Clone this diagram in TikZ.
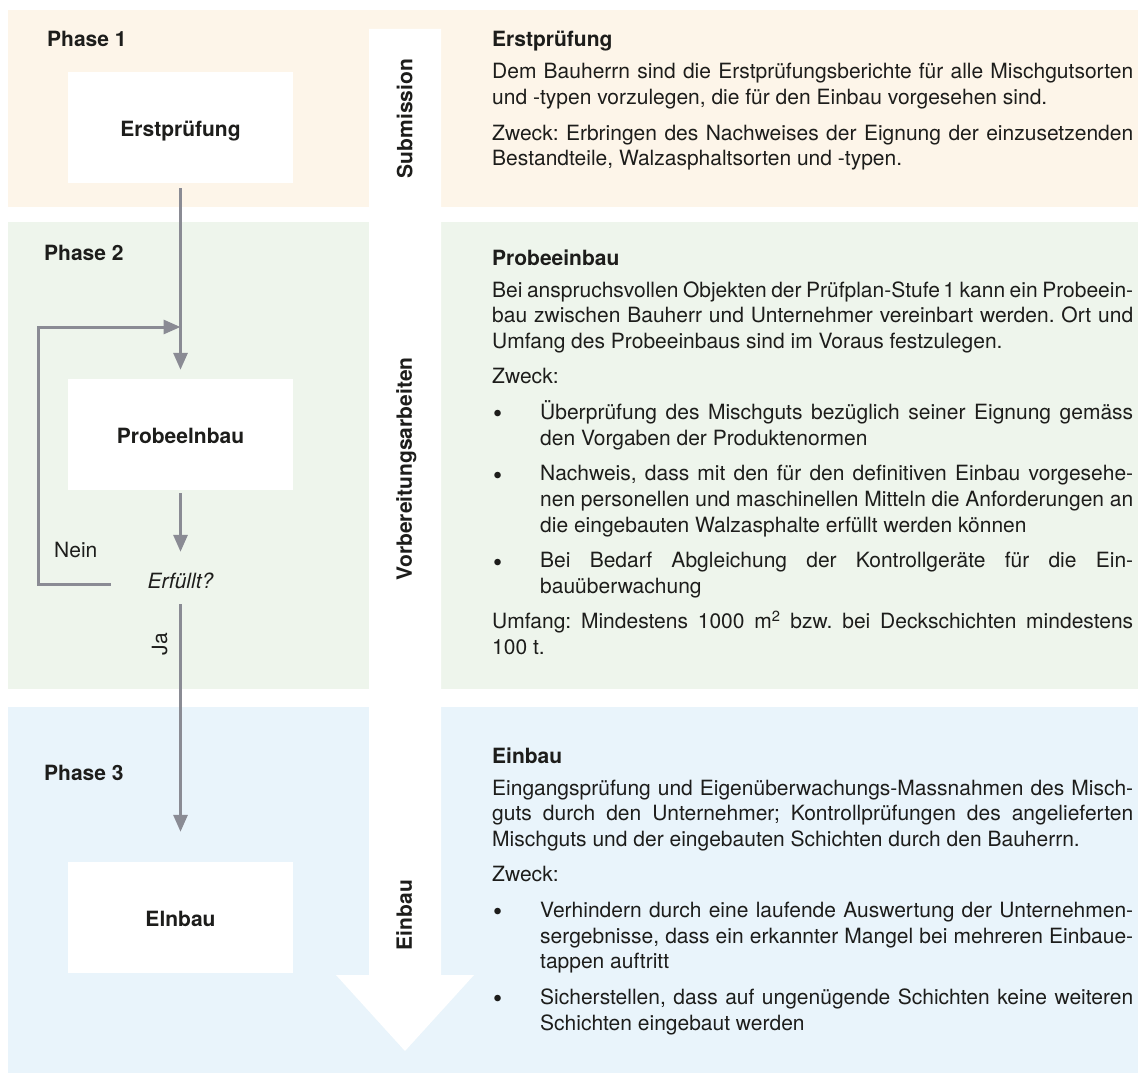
\documentclass[tikz,border=0pt]{standalone}
\usepackage{fontspec}
\setmainfont{TeX Gyre Heros}
\usetikzlibrary{arrows.meta}
\definecolor{peach}{HTML}{FDF5E9}
\definecolor{sage}{HTML}{EEF5EC}
\definecolor{sky}{HTML}{E9F4FB}
\definecolor{flowgray}{HTML}{8A8B94}
\definecolor{ink}{HTML}{1D1D1B}
\frenchspacing
\newcommand\bodyfont{\fontsize{21}{25.7}\selectfont\frenchspacing}
\newcommand\JL[1]{\hbox to\hsize{#1}}
\newcommand\LL[1]{\hbox{#1}}
\newcommand\BJ[2]{\hbox to\hsize{\hbox to 48pt{\hskip 1pt #1\hfil}#2}}
\newcommand\BL[1]{\hbox{\hskip 48pt #1}}
\newcommand\PG{\vskip 9.8pt}
\newcommand\HG{\vskip 6.3pt}
\newcommand\HD[1]{\hbox{\bfseries #1}}
\newcommand\bul{\raisebox{-3.5pt}{\fontsize{26}{26}\selectfont\textbullet}}
\begin{document}
\begin{tikzpicture}[x=1pt,y=-1pt,
  font=\bodyfont, text=ink,
  stepbox/.style={fill=white, minimum width=225pt, minimum height=111pt, inner sep=0pt,
    font=\bodyfont\bfseries, text height=18pt, text depth=0pt},
  flow/.style={draw=flowgray, line width=3pt, -{Triangle[width=14pt,length=17pt]}},
  vlabel/.style={rotate=90, font=\bodyfont\bfseries, text depth=0pt, inner sep=0pt},
  phase/.style={anchor=base west, font=\bodyfont\bfseries, inner sep=0pt},
  sect/.style={anchor=base west, inner sep=0pt}
]
\useasboundingbox (0,0) rectangle (1138,1073);
% bands
\fill[peach] (8,10) rectangle (1138,207);
\fill[sage] (8,222) rectangle (1138,689);
\fill[sky] (8,707) rectangle (1138,1073);
% big white arrow
\fill[white] (369,29) -- (441,29) -- (441,975) -- (474,975) -- (405,1051) -- (336,975) -- (369,975) -- cycle;
% vertical labels
\node[vlabel] (lsub) at (404.5,118.5) {Submission};
\node[vlabel] (lvor) at (404,469) {Vorbereitungsarbeiten};
\node[vlabel] (lein) at (404,915) {Einbau};
% phase labels
\node[phase] (p1) at (47,47) {Phase 1};
\node[phase] (p2) at (44,260) {Phase 2};
\node[phase] (p3) at (44,780) {Phase 3};
% boxes
\node[stepbox] (erst) at (180.5,127.5) {Erstprüfung};
\node[stepbox] (probe) at (180.5,434) {Probeelnbau};
\node[stepbox] (einbau) at (180.5,917.5) {Elnbau};
\node[inner sep=0pt, minimum width=133pt, minimum height=40pt, font=\bodyfont\itshape,
  text height=8pt, text depth=0pt] (erf) at (180.5,584) {Erfüllt?};
\node[anchor=base west, inner sep=0pt] (nein) at (54,557) {Nein};
\node[rotate=90, anchor=base, inner sep=0pt] (ja) at (167,644) {Ja};
\coordinate (loopc) at (38,327);
\coordinate (merge) at (180.5,327);
% connectors
\draw[flow, shorten <=5pt, shorten >=8.5pt] (erst) -- (probe);
\draw[flow, shorten <=3pt] (erf.west) -| (loopc) -- (merge);
\draw[flow, shorten <=3.5pt, shorten >=12pt] (probe) -- (erf);
\draw[flow, shorten >=30pt] (erf) -- (einbau);
% right texts
\node[sect] (t1) at (492,47) {\begin{minipage}[t]{641pt}\bodyfont
\HD{Erstprüfung}\HG
\JL{Dem Bauherrn sind die Erstprüfungsberichte für alle Mischgutsorten}
\LL{und -typen vorzulegen, die für den Einbau vorgesehen sind.}\PG
\JL{Zweck: Erbringen des Nachweises der Eignung der einzusetzenden}
\LL{Bestandteile, Walzasphaltsorten und -typen.}
\end{minipage}};
\node[sect] (t2) at (492,265) {\begin{minipage}[t]{641pt}\bodyfont
\HD{Probeeinbau}\HG
\JL{Bei anspruchsvollen Objekten der Prüfplan-Stufe\,1 kann ein Probeein-}
\JL{bau zwischen Bauherr und Unternehmer vereinbart werden. Ort und}
\LL{Umfang des Probeeinbaus sind im Voraus festzulegen.}\PG
\LL{Zweck:}\PG
\BJ{\bul}{Überprüfung des Mischguts bezüglich seiner Eignung gemäss}
\BL{den Vorgaben der Produktenormen}\PG
\BJ{\bul}{Nachweis, dass mit den für den definitiven Einbau vorgesehe-}
\BJ{}{nen personellen und maschinellen Mitteln die Anforderungen an}
\BL{die eingebauten Walzasphalte erfüllt werden können}\PG
\BJ{\bul}{Bei Bedarf Abgleichung der Kontrollgeräte für die Ein-}
\BL{bauüberwachung}\PG
\JL{Umfang: Mindestens 1000 m\textsuperscript{2} bzw. bei Deckschichten mindestens}
\LL{100 t.}
\end{minipage}};
\node[sect] (t3) at (492,763) {\begin{minipage}[t]{641pt}\bodyfont
\HD{Einbau}\HG
\JL{Eingangsprüfung und Eigenüberwachungs-Massnahmen des Misch-}
\JL{guts durch den Unternehmer; Kontrollprüfungen des angelieferten}
\LL{Mischguts und der eingebauten Schichten durch den Bauherrn.}\PG
\LL{Zweck:}\PG
\BJ{\bul}{Verhindern durch eine laufende Auswertung der Unternehmen-}
\BJ{}{sergebnisse, dass ein erkannter Mangel bei mehreren Einbaue-}
\BL{tappen auftritt}\PG
\BJ{\bul}{Sicherstellen, dass auf ungenügende Schichten keine weiteren}
\BL{Schichten eingebaut werden}
\end{minipage}};
\end{tikzpicture}
\end{document}
